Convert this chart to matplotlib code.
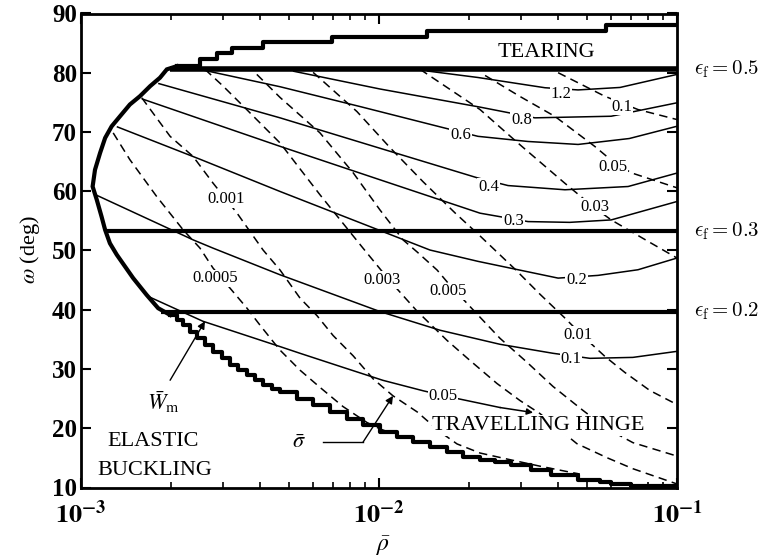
import numpy as np
import matplotlib
matplotlib.use("Agg")
import matplotlib.pyplot as plt
from matplotlib.transforms import blended_transform_factory

plt.rcParams['font.family'] = ['Liberation Serif', 'DejaVu Serif']
plt.rcParams['mathtext.fontset'] = 'stix'

# ---------------- data: log10(rho_bar), omega (deg) ----------------
# elastic buckling boundary: upper (smooth) part
buck_up_logrho = [-2.679, -2.712, -2.735, -2.768, -2.802, -2.836, -2.869, -2.897, -2.919,
                  -2.936, -2.953, -2.961, -2.947, -2.931, -2.919, -2.903, -2.880, -2.825,
                  -2.780, -2.741, -2.701]
buck_up_omega = [81.1, 80.57, 79.16, 77.74, 76.05, 74.64, 72.66, 70.97, 69.0,
                 66.46, 63.63, 60.8, 58.55, 55.72, 53.47, 51.22, 49.29, 45.34,
                 42.52, 40.26, 39.13]
# elastic buckling boundary: lower (stepped) part
buck_lo_logrho = [-2.701, -2.679, -2.657, -2.635, -2.612, -2.584, -2.556, -2.528, -2.500,
                  -2.472, -2.444, -2.416, -2.388, -2.360, -2.332, -2.276,
                  -2.220, -2.164, -2.108, -2.053, -1.997, -1.941, -1.885, -1.829, -1.773,
                  -1.717, -1.661, -1.611, -1.556, -1.489, -1.422, -1.332, -1.258, -1.220,
                  -1.153, -1.000]
buck_lo_omega = [39.13, 38.3, 37.43, 36.3, 35.18, 34.05, 32.93, 31.8, 30.66,
                 29.8, 28.97, 28.1, 27.27, 26.65, 26.04, 25.02,
                 23.89, 22.77, 21.63, 20.50, 19.38, 18.53, 17.69, 16.84, 15.99,
                 15.15, 14.69, 14.35, 13.73, 12.88, 12.03, 11.19, 10.88, 10.63,
                 10.29, 10.12]
# tearing boundary (stepped)
tear_logrho = [-2.679, -2.601, -2.545, -2.494, -2.389, -2.159, -1.840, -1.237, -1.000]
tear_omega = [81.1, 82.3, 83.4, 84.2, 85.2, 86.0, 87.1, 88.0, 88.0]

# epsilon_f = const lines
ef_labels = ['0.5', '0.3', '0.2']
ef_omega = [80.6, 53.3, 39.7]
ef_start_logrho = [-2.70, -2.92, -2.73]

# W_m contours (solid)
wm_1p2_logrho = [-1.839, -1.668, -1.443, -1.332, -1.191, -1.000]
wm_1p2_omega = [80.3, 79.2, 77.47, 77.1, 77.52, 79.72]
wm_0p8_logrho = [-2.289, -1.997, -1.661, -1.477, -1.221, -1.000]
wm_0p8_omega = [80.28, 77.26, 74.2, 72.39, 72.66, 74.93]
wm_0p6_logrho = [-2.601, -2.332, -2.064, -1.785, -1.668, -1.500, -1.332, -1.160, -1.000]
wm_0p6_omega = [80.57, 77.64, 74.3, 70.74, 69.27, 68.4, 67.9, 68.9, 70.97]
wm_0p4_logrho = [-2.741, -2.332, -1.997, -1.671, -1.567, -1.376, -1.164, -1.000]
wm_0p4_omega = [78.2, 72.39, 67.26, 62.28, 60.96, 60.25, 60.8, 63.07]
wm_0p3_logrho = [-2.796, -2.332, -1.997, -1.661, -1.500, -1.360, -1.221, -1.000]
wm_0p3_omega = [75.6, 67.58, 61.94, 56.3, 54.88, 54.75, 55.16, 58.27]
wm_0p2_logrho = [-2.880, -2.601, -2.332, -1.829, -1.668, -1.399, -1.265, -1.131, -1.000]
wm_0p2_omega = [70.9, 65.41, 59.96, 50.08, 48.17, 45.34, 45.8, 46.75, 48.73]
wm_0p1_logrho = [-2.955, -2.623, -2.557, -2.332, -1.997, -1.795, -1.594, -1.416, -1.292, -1.148, -1.000]
wm_0p1_omega = [59.5, 51.78, 50.4, 45.9, 39.7, 36.54, 34.17, 32.65, 31.8, 31.96, 32.98]
wm_0p05_logrho = [-2.774, -2.591, -2.332, -2.265, -2.121, -1.987, -1.850, -1.738, -1.594, -1.483]
wm_0p05_omega = [42.24, 38.06, 33.78, 32.65, 30.28, 28.09, 26.3, 25.02, 23.5, 22.65]

# sigma_bar contours (dashed)
sg_0p0005_logrho = [-2.892, -2.836, -2.746, -2.657, -2.601, -2.557, -2.500, -2.443, -2.399,
                    -2.356, -2.332, -2.265, -2.198, -2.121, -2.040, -1.997, -1.960]
sg_0p0005_omega = [69.85, 65.33, 59.11, 53.47, 50.42, 47.04, 43.65, 40.26, 37.38,
                   34.67, 33.18, 29.8, 26.9, 23.67, 20.96, 19.9, 19.2]
sg_0p001_logrho = [-2.796, -2.701, -2.624, -2.557, -2.477, -2.389, -2.332, -2.265, -2.208,
                   -2.154, -2.087, -2.020, -1.953, -1.872, -1.795, -1.738, -1.661, -1.570,
                   -1.460, -1.326]
sg_0p001_omega = [75.77, 69.27, 65.88, 61.38, 56.35, 50.08, 46.7, 41.96, 39.0,
                  35.65, 32.24, 28.35, 25.47, 22.76, 19.38, 17.35, 15.82, 14.8,
                  13.6, 12.26]
sg_0p003_logrho = [-2.584, -2.523, -2.444, -2.377, -2.332, -2.198, -2.054, -1.963, -1.872,
                   -1.772, -1.695, -1.604, -1.527, -1.460, -1.336, -1.235, -1.148, -1.000]
sg_0p003_omega = [80.57, 77.74, 73.79, 70.41, 68.15, 59.4, 50.42, 44.84, 39.75,
                  34.84, 31.45, 27.55, 24.68, 22.48, 17.4, 15.03, 13.17, 10.6]
sg_0p005_logrho = [-2.410, -2.332, -2.198, -2.086, -1.997, -1.919, -1.872, -1.805, -1.768,
                   -1.705, -1.661, -1.594, -1.503, -1.416, -1.315, -1.235, -1.148, -1.000]
sg_0p005_omega = [79.72, 75.83, 69.85, 63.07, 56.86, 51.78, 49.75, 46.7, 44.5,
                  41.1, 38.74, 35.18, 31.12, 27.05, 22.99, 19.94, 17.57, 15.3]
sg_0p01_logrho = [-2.221, -2.074, -1.963, -1.852, -1.745, -1.661, -1.544, -1.460, -1.379,
                  -1.315, -1.242, -1.175, -1.091, -1.000]
sg_0p01_omega = [80.06, 73.45, 67.36, 61.6, 56.35, 52.46, 46.87, 42.63, 38.74,
                 35.52, 32.13, 29.42, 26.37, 24.0]
sg_0p03_logrho = [-1.862, -1.728, -1.661, -1.534, -1.377, -1.282, -1.221, -1.086, -1.000]
sg_0p03_omega = [80.57, 76.05, 73.79, 68.15, 61.38, 57.42, 55.17, 51.22, 48.73]
sg_0p05_logrho = [-1.644, -1.527, -1.409, -1.275, -1.215, -1.154, -1.000]
sg_0p05_omega = [79.54, 76.0, 72.61, 67.53, 65.0, 63.12, 60.58]
sg_0p1_logrho = [-1.399, -1.243, -1.131, -1.000]
sg_0p1_omega = [80.01, 76.05, 73.79, 72.1]

# contour labels: text, log10(rho), omega
wm_label_text = ['1.2', '0.8', '0.6', '0.4', '0.3', '0.2', '0.1', '0.05']
wm_label_logrho = [-1.389, -1.521, -1.726, -1.632, -1.548, -1.337, -1.355, -1.785]
wm_label_omega = [76.33, 72.1, 69.56, 60.75, 55.0, 45.0, 31.68, 25.36]
sg_label_text = ['0.1', '0.05', '0.03', '0.01', '0.005', '0.003', '0.001', '0.0005']
sg_label_logrho = [-1.185, -1.215, -1.275, -1.332, -1.767, -1.989, -2.514, -2.550]
sg_label_omega = [74.3, 64.15, 57.42, 35.7, 43.1, 45.0, 58.7, 45.3]

# annotation leaders
wm_arrow_logrho = [-2.701, -2.584]
wm_arrow_omega = [28.1, 38.06]
sg_leader_logrho = [-2.188, -2.054, -1.953]
sg_leader_omega = [17.62, 17.62, 25.47]

yticks = [10, 20, 30, 40, 50, 60, 70, 80, 90]
xticks = [1e-3, 1e-2, 1e-1]
xticklabels = [r'$\mathbf{10^{-3}}$', r'$\mathbf{10^{-2}}$', r'$\mathbf{10^{-1}}$']


def R(v):
    return 10.0 ** np.asarray(v)


fig = plt.figure(figsize=(7.67, 5.57), dpi=100)
ax = fig.add_axes([81 / 767, 1 - 487.5 / 557, 596 / 767, 474 / 557])
ax.set_xscale('log')
ax.set_xlim(1e-3, 1e-1)
ax.set_ylim(10, 90)

thin = 1.1
solid = [(wm_1p2_logrho, wm_1p2_omega), (wm_0p8_logrho, wm_0p8_omega),
         (wm_0p6_logrho, wm_0p6_omega), (wm_0p4_logrho, wm_0p4_omega),
         (wm_0p3_logrho, wm_0p3_omega), (wm_0p2_logrho, wm_0p2_omega),
         (wm_0p1_logrho, wm_0p1_omega)]
for lr, w in solid:
    ax.plot(R(lr), w, color='k', lw=thin, zorder=2, solid_capstyle='butt')
# 0.05 line ending in arrow head
ax.plot(R(wm_0p05_logrho[:-1]), wm_0p05_omega[:-1], color='k', lw=thin, zorder=2)
ax.annotate('', xy=(R(wm_0p05_logrho[-1]), wm_0p05_omega[-1]),
            xytext=(R(wm_0p05_logrho[-2]), wm_0p05_omega[-2]),
            arrowprops=dict(arrowstyle='-|>', color='k', lw=thin, mutation_scale=9,
                            shrinkA=0, shrinkB=0), zorder=2)

dashed = [(sg_0p0005_logrho, sg_0p0005_omega), (sg_0p001_logrho, sg_0p001_omega),
          (sg_0p003_logrho, sg_0p003_omega), (sg_0p005_logrho, sg_0p005_omega),
          (sg_0p01_logrho, sg_0p01_omega), (sg_0p03_logrho, sg_0p03_omega),
          (sg_0p05_logrho, sg_0p05_omega), (sg_0p1_logrho, sg_0p1_omega)]
for lr, w in dashed:
    ax.plot(R(lr), w, color='k', lw=thin, ls=(0, (5.5, 3.5)), zorder=2)

# thick boundaries
ax.plot(R(buck_up_logrho), buck_up_omega, color='k', lw=3.0, zorder=4,
        solid_joinstyle='miter')
ax.plot(R(buck_lo_logrho), buck_lo_omega, color='k', lw=3.0, zorder=4,
        drawstyle='steps-post')
ax.plot(R(tear_logrho), tear_omega, color='k', lw=3.0, zorder=4, drawstyle='steps-post')
ef_lw = [4.0, 3.0, 3.0]
for s, w, lw in zip(ef_start_logrho, ef_omega, ef_lw):
    ax.plot([R(s), 1e-1], [w, w], color='k', lw=lw, zorder=4, solid_capstyle='butt')

# contour labels
box = dict(fc='white', ec='none', pad=0.6)
for t, lr, w in zip(wm_label_text, wm_label_logrho, wm_label_omega):
    ax.text(R(lr), w, t, ha='center', va='center', fontsize=12, bbox=box, zorder=3)
for t, lr, w in zip(sg_label_text, sg_label_logrho, sg_label_omega):
    ax.text(R(lr), w, t, ha='center', va='center', fontsize=12, bbox=box, zorder=3)

# regime labels
ax.text(R(-1.440), 83.45, 'TEARING', ha='center', va='center', fontsize=16, zorder=5)
ax.text(R(-2.757), 17.7, 'ELASTIC', ha='center', va='center', fontsize=16, zorder=5)
ax.text(R(-2.752), 12.88, 'BUCKLING', ha='center', va='center', fontsize=16, zorder=5)
ax.text(R(-1.465), 20.45, 'TRAVELLING HINGE', ha='center', va='center', fontsize=16,
        zorder=5, bbox=dict(fc='white', ec='none', pad=0.5))

# annotations
ax.text(R(-2.724), 24.46, r'$\bar{W}_{\rm m}$', ha='center', va='center', fontsize=16,
        zorder=5)
ax.annotate('', xy=(R(wm_arrow_logrho[1]), wm_arrow_omega[1]),
            xytext=(R(wm_arrow_logrho[0]), wm_arrow_omega[0]),
            arrowprops=dict(arrowstyle='-|>', color='k', lw=1.0, mutation_scale=11,
                            shrinkA=0, shrinkB=0), zorder=5)
ax.text(R(-2.268), 17.5, r'$\bar{\sigma}$', ha='center', va='center', fontsize=16, zorder=5)
ax.plot(R(sg_leader_logrho[:2]), sg_leader_omega[:2], color='k', lw=1.0, zorder=5)
ax.annotate('', xy=(R(sg_leader_logrho[2]), sg_leader_omega[2]),
            xytext=(R(sg_leader_logrho[1]), sg_leader_omega[1]),
            arrowprops=dict(arrowstyle='-|>', color='k', lw=1.0, mutation_scale=11,
                            shrinkA=0, shrinkB=0), zorder=5)

# epsilon_f labels at right
tr = blended_transform_factory(ax.transAxes, ax.transData)
for t, w in zip(ef_labels, ef_omega):
    ax.text(1.028, w, r'$\epsilon_{\rm f} = ' + t + '$', transform=tr, ha='left',
            va='center', fontsize=15, math_fontfamily='cm', clip_on=False)

# axes styling
for sp in ax.spines.values():
    sp.set_linewidth(2.0)
ax.set_yticks(yticks)
ax.set_yticklabels([str(v) for v in yticks], fontsize=18, fontweight='bold')
ax.set_xticks(xticks)
ax.set_xticklabels(xticklabels, fontsize=19)
ax.tick_params(which='both', direction='in', top=True, right=True)
ax.tick_params(which='major', length=7, width=1.5)
ax.tick_params(which='minor', length=4, width=1.2)
ax.tick_params(axis='y', pad=3)
ax.tick_params(axis='x', which='major', pad=9)

fig.text(30 / 767, 1 - 250 / 557, r'$\omega$ (deg)', rotation=90, ha='center', va='center',
         fontsize=16)
fig.text(383 / 767, 1 - 546 / 557, r'$\bar{\rho}$', ha='center', va='center', fontsize=17)

fig.savefig('out.png', dpi=100)
